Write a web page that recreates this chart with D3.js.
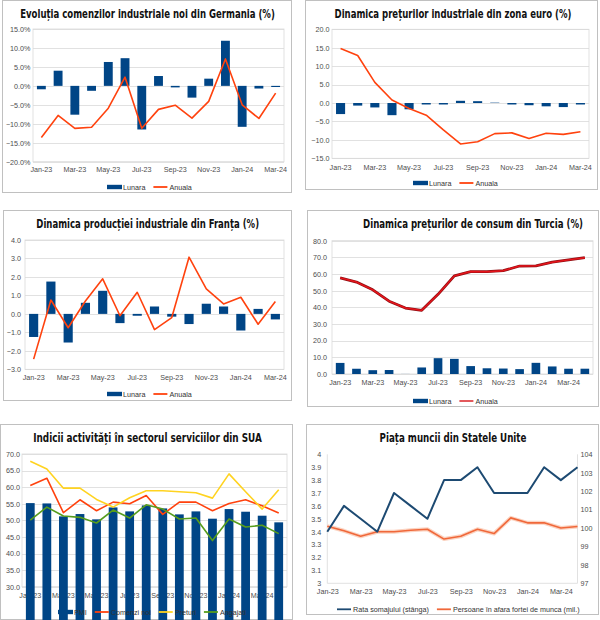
<!DOCTYPE html>
<html>
<head>
<meta charset="utf-8">
<script src="https://cdn.jsdelivr.net/npm/d3@7"></script>
<style>
body { margin: 0; background: #fff; }
svg text { font-family: "Liberation Sans", Arial, sans-serif; }
</style>
</head>
<body>
<svg id="chart" width="600" height="620"></svg>
<script>
// luni
const months = ["Jan-23","Feb-23","Mar-23","Apr-23","May-23","Jun-23","Jul-23","Aug-23",
                "Sep-23","Oct-23","Nov-23","Dec-23","Jan-24","Feb-24","Mar-24","Apr-24"];
const months15 = months.slice(0, 15);
const tickMonths = ["Jan-23","Mar-23","May-23","Jul-23","Sep-23","Nov-23","Jan-24","Mar-24"];

// Germania - comenzi industriale noi (%)
const deLunara = [-0.9, 4.0, -7.6, -1.3, 6.3, 7.3, -11.5, 2.6, -0.4, -3.1, 1.9, 11.9, -10.8, -0.7, -0.3];
const deAnuala = [-13.6, -7.8, -11.2, -10.9, -5.9, 2.3, -11.2, -6.2, -5.1, -8.5, -4.1, 7.1, -5.0, -8.6, -1.9];
// zona euro - preturi industriale
const ezLunara = [-3.0, -0.7, -1.2, -3.3, -1.7, -0.4, -0.4, 0.6, 0.5, 0.1, -0.4, -0.6, -0.9, -1.1, -0.4];
const ezAnuala = [14.8, 12.9, 5.6, 0.8, -1.5, -3.3, -7.3, -11.1, -10.5, -8.3, -8.1, -9.6, -8.2, -8.5, -7.8];
// Franta - productie industriala
const frLunara = [-1.25, 1.75, -1.55, 0.6, 1.25, -0.5, -0.1, 0.4, -0.15, -0.55, 0.55, 0.4, -0.9, 0.27, -0.3];
const frAnuala = [-2.45, 0.75, -0.75, 0.7, 1.9, -0.1, 1.17, -0.85, -0.2, 3.07, 1.35, 0.54, 0.9, -0.56, 0.67];
// Turcia - preturi de consum
const trLunara = [6.65, 3.15, 2.29, 2.39, 0.04, 3.92, 9.49, 9.09, 4.75, 3.43, 3.28, 2.93, 6.70, 4.53, 3.16, 3.18];
const trAnuala = [57.7, 55.2, 50.5, 43.7, 39.6, 38.2, 47.8, 58.9, 61.5, 61.4, 62.0, 64.8, 64.9, 67.1, 68.5, 69.8];
// SUA - servicii
const usPMI      = [55.2, 55.1, 51.2, 51.9, 50.3, 53.9, 52.7, 54.5, 53.6, 51.8, 52.7, 50.5, 53.4, 52.6, 51.4, 49.4];
const usComenzi  = [60.5, 62.7, 52.3, 56.2, 52.9, 55.5, 55.0, 57.5, 51.8, 55.5, 55.5, 52.9, 55.1, 56.2, 54.4, 52.2];
const usPreturi  = [67.8, 65.5, 59.7, 59.7, 56.3, 54.0, 56.8, 58.9, 58.9, 58.6, 58.3, 56.7, 64.0, 58.6, 53.4, 59.2];
const usAngajati = [50.1, 54.0, 51.3, 50.9, 49.2, 53.1, 50.7, 54.7, 53.4, 50.4, 50.7, 43.9, 50.4, 48.0, 48.5, 46.0];
// SUA - piata muncii
const usSomaj   = [3.4, 3.6, 3.5, 3.4, 3.7, 3.6, 3.5, 3.8, 3.8, 3.9, 3.7, 3.7, 3.7, 3.9, 3.8, 3.9];
const usInafara = [100.1, 99.85, 99.55, 99.8, 99.8, 99.88, 99.93, 99.4, 99.55, 99.93, 99.7, 100.55, 100.28, 100.28, 100.0, 100.08];

const BLUE = "#004586", ORANGE = "#ff420e", YELLOW = "#ffd320", GREEN = "#579d1c";
const gridCol = "#d9d9d9", frameCol = "#c0c0c0", txtCol = "#4d4d4d";
const svg = d3.select("#chart");

function frame(x0, y0, x1, y1) {
  svg.append("rect")
     .attr("x", x0 + 0.5).attr("y", y0 + 0.5)
     .attr("width", x1 - x0 - 1).attr("height", y1 - y0 - 1)
     .attr("fill", "#fff").attr("stroke", frameCol);
}

// titlu ingustat pe orizontala pana la latimea din original
function title(txt, cx, y, w) {
  const t = svg.append("text")
     .attr("text-anchor", "middle")
     .style("font-family", '"DejaVu Sans Condensed", "Liberation Sans Narrow", sans-serif')
     .style("font-weight", "700").style("font-size", "12.8px").style("fill", "#111")
     .text(txt);
  const nat = t.node().getComputedTextLength();
  t.attr("transform", `translate(${cx},${y}) scale(${(w / nat).toFixed(4)},1)`);
}

function styleTicks(sel) {
  sel.select(".domain").remove();
  sel.selectAll("text").style("font-size", "7.2px").style("fill", txtCol)
     .style("font-family", '"Liberation Sans", Arial, sans-serif');
}

function legend(items, x, y) {
  let cx = x;
  items.forEach(it => {
    if (it.type == "bar") {
      svg.append("rect").attr("x", cx).attr("y", y - 2.2).attr("width", 15).attr("height", 4.4).attr("fill", it.color);
    } else {
      svg.append("line").attr("x1", cx).attr("x2", cx + 14).attr("y1", y).attr("y2", y)
         .attr("stroke", it.color).attr("stroke-width", 1.8);
    }
    const t = svg.append("text").attr("x", cx + 16).attr("y", y + 2.6)
       .style("font-size", "7.2px").style("fill", "#333").text(it.label);
    cx += 16 + t.node().getComputedTextLength() + 8;
  });
}

// panou generic: bare + linii pe scala de categorii
function panel(p) {
  frame(...p.frame);
  title(p.title, p.titleX, p.titleY, p.titleW);
  const [x0, y0, x1, y1] = p.plot;
  const y = d3.scaleLinear().domain(p.yDomain).range([y1, y0]);
  const x = d3.scaleBand().domain(p.cats).range([x0, x1]).paddingInner(0.47).paddingOuter(0.235);
  const xc = d => x(d) + x.bandwidth() / 2;
  const ticks = d3.range(p.yDomain[0], p.yDomain[1] + p.yStep / 2, p.yStep);

  svg.append("g").selectAll("line").data(ticks).join("line")
     .attr("x1", x0).attr("x2", x1)
     .attr("y1", d => Math.round(y(d)) + 0.5).attr("y2", d => Math.round(y(d)) + 0.5)
     .attr("stroke", gridCol).attr("stroke-width", 0.8);
  svg.append("rect").attr("x", x0).attr("y", y0).attr("width", x1 - x0).attr("height", y1 - y0)
     .attr("fill", "none").attr("stroke", gridCol).attr("stroke-width", 0.8);

  svg.append("g").attr("transform", `translate(${x0},0)`)
     .call(d3.axisLeft(y).tickValues(ticks).tickFormat(p.yFormat).tickSize(0).tickPadding(p.yPad))
     .call(styleTicks);
  svg.append("g").attr("transform", `translate(0,${y1})`)
     .call(d3.axisBottom(x).tickValues(tickMonths).tickSize(0).tickPadding(p.xPad))
     .call(styleTicks);

  (p.bars || []).forEach(s => {
    svg.append("g").selectAll("rect").data(s.values).join("rect")
       .attr("x", (d, i) => x(p.cats[i]))
       .attr("width", x.bandwidth())
       .attr("y", d => y(Math.max(0, d)))
       .attr("height", d => Math.abs(y(d) - y(0)))
       .attr("fill", s.color);
  });
  (p.lines || []).forEach(s => {
    const line = d3.line().x((d, i) => xc(p.cats[i])).y(d => y(d));
    if (s.under) {
      svg.append("path").datum(s.values).attr("d", line).attr("fill", "none")
         .attr("stroke", s.under).attr("stroke-width", s.underW).attr("stroke-linejoin", "round");
    }
    svg.append("path").datum(s.values).attr("d", line).attr("fill", "none")
       .attr("stroke", s.color).attr("stroke-width", s.width || 1.6).attr("stroke-linejoin", "round");
  });
  legend(p.legend, p.legendX, p.legendY);
}

const pct = d => d3.format(".1f")(d) + "%";
const f1 = d3.format(".1f");

panel({
  frame: [2, 0, 292, 193],
  title: "Evoluția comenzilor industriale noi din Germania (%)", titleX: 147.5, titleY: 18.3, titleW: 255,
  plot: [33, 29, 284, 161.7], yDomain: [-20, 15], yStep: 5, yFormat: pct, yPad: 2.5, xPad: 5.5,
  cats: months15,
  bars: [{ values: deLunara, color: BLUE }],
  lines: [{ values: deAnuala, color: ORANGE }],
  legend: [{ type: "bar", color: BLUE, label: "Lunara" }, { type: "line", color: ORANGE, label: "Anuala" }],
  legendX: 107, legendY: 187
});

panel({
  frame: [305, 0, 598, 190],
  title: "Dinamica prețurilor industriale din zona euro (%)", titleX: 453, titleY: 17.7, titleW: 237,
  plot: [332, 29.3, 589, 158.3], yDomain: [-15, 20], yStep: 5, yFormat: f1, yPad: 2.5, xPad: 7,
  cats: months15,
  bars: [{ values: ezLunara, color: BLUE }],
  lines: [{ values: ezAnuala, color: ORANGE }],
  legend: [{ type: "bar", color: BLUE, label: "Lunara" }, { type: "line", color: ORANGE, label: "Anuala" }],
  legendX: 413, legendY: 183
});

panel({
  frame: [3, 210, 292, 401],
  title: "Dinamica producției industriale din Franța (%)", titleX: 147.7, titleY: 228.3, titleW: 223,
  plot: [25, 240, 284, 369.3], yDomain: [-3, 4], yStep: 1, yFormat: f1, yPad: 4, xPad: 6,
  cats: months15,
  bars: [{ values: frLunara, color: BLUE }],
  lines: [{ values: frAnuala, color: ORANGE }],
  legend: [{ type: "bar", color: BLUE, label: "Lunara" }, { type: "line", color: ORANGE, label: "Anuala" }],
  legendX: 107, legendY: 394
});

panel({
  frame: [307, 210, 599, 407],
  title: "Dinamica prețurilor de consum din Turcia (%)", titleX: 473, titleY: 228.3, titleW: 220,
  plot: [332, 240.7, 593, 374], yDomain: [0, 80], yStep: 10, yFormat: f1, yPad: 5, xPad: 6,
  cats: months,
  bars: [{ values: trLunara, color: BLUE }],
  lines: [{ values: trAnuala, color: "#e8141b", width: 1.4, under: "#8e1014", underW: 2.8 }],
  legend: [{ type: "bar", color: BLUE, label: "Lunara" }, { type: "line", color: "#e0474a", label: "Anuala" }],
  legendX: 413, legendY: 401
});

panel({
  frame: [0, 424, 293, 620],
  title: "Indicii activități în sectorul serviciilor din SUA", titleX: 147.5, titleY: 442.3, titleW: 229,
  plot: [22, 454, 287, 586.7], yDomain: [30, 70], yStep: 5, yFormat: f1, yPad: 2, xPad: 6,
  cats: months,
  bars: [{ values: usPMI, color: BLUE }],
  lines: [{ values: usComenzi, color: ORANGE }, { values: usPreturi, color: YELLOW },
          { values: usAngajati, color: GREEN }],
  legend: [{ type: "bar", color: BLUE, label: "PMI" }, { type: "line", color: ORANGE, label: "Comenzi noi" },
           { type: "line", color: YELLOW, label: "Preturi" }, { type: "line", color: GREEN, label: "Angajati" }],
  legendX: 58, legendY: 612
});

// Piata muncii din SUA - doua axe
(function () {
  frame(306, 424, 599, 615);
  title("Piața muncii din Statele Unite", 453, 442.3, 147);
  const x0 = 327.3, x1 = 577.5, y0 = 454.3, y1 = 583.3;
  const x = d3.scalePoint().domain(months).range([x0, x1]);
  const yL = d3.scaleLinear().domain([3, 4]).range([y1, y0]);
  const yR = d3.scaleLinear().domain([97, 104]).range([y1, y0]);

  svg.append("g").attr("transform", `translate(${x0},0)`)
     .call(d3.axisLeft(yL).tickValues(d3.range(3, 4.05, 0.1)).tickFormat(d => String(+d.toFixed(1))).tickSize(0).tickPadding(6))
     .call(styleTicks);
  svg.append("g").attr("transform", `translate(${x1},0)`)
     .call(d3.axisRight(yR).tickValues(d3.range(97, 105, 1)).tickFormat(d3.format("d")).tickSize(0).tickPadding(3))
     .call(styleTicks);
  svg.append("g").attr("transform", `translate(0,${y1})`)
     .call(d3.axisBottom(x).tickValues(tickMonths).tickSize(0).tickPadding(6))
     .call(styleTicks);
  svg.append("path").attr("d", `M${x0},${y0}V${y1}H${x1}V${y0}`)
     .attr("fill", "none").attr("stroke", gridCol).attr("stroke-width", 0.8);

  const lineR = d3.line().x((d, i) => x(months[i])).y(d => yR(d));
  svg.append("path").datum(usInafara).attr("d", lineR).attr("fill", "none")
     .attr("stroke", "#fbd3c1").attr("stroke-width", 4).attr("stroke-linejoin", "round");
  svg.append("path").datum(usInafara).attr("d", lineR).attr("fill", "none")
     .attr("stroke", "#f0683a").attr("stroke-width", 1.6).attr("stroke-linejoin", "round");
  const lineL = d3.line().x((d, i) => x(months[i])).y(d => yL(d));
  svg.append("path").datum(usSomaj).attr("d", lineL).attr("fill", "none")
     .attr("stroke", "#1d4a72").attr("stroke-width", 2).attr("stroke-linejoin", "round");

  legend([{ type: "line", color: "#1d4a72", label: "Rata somajului (stânga)" },
          { type: "line", color: "#f0683a", label: "Persoane în afara fortei de munca (mil.)" }], 337, 609.3);
})();
</script>
</body>
</html>
